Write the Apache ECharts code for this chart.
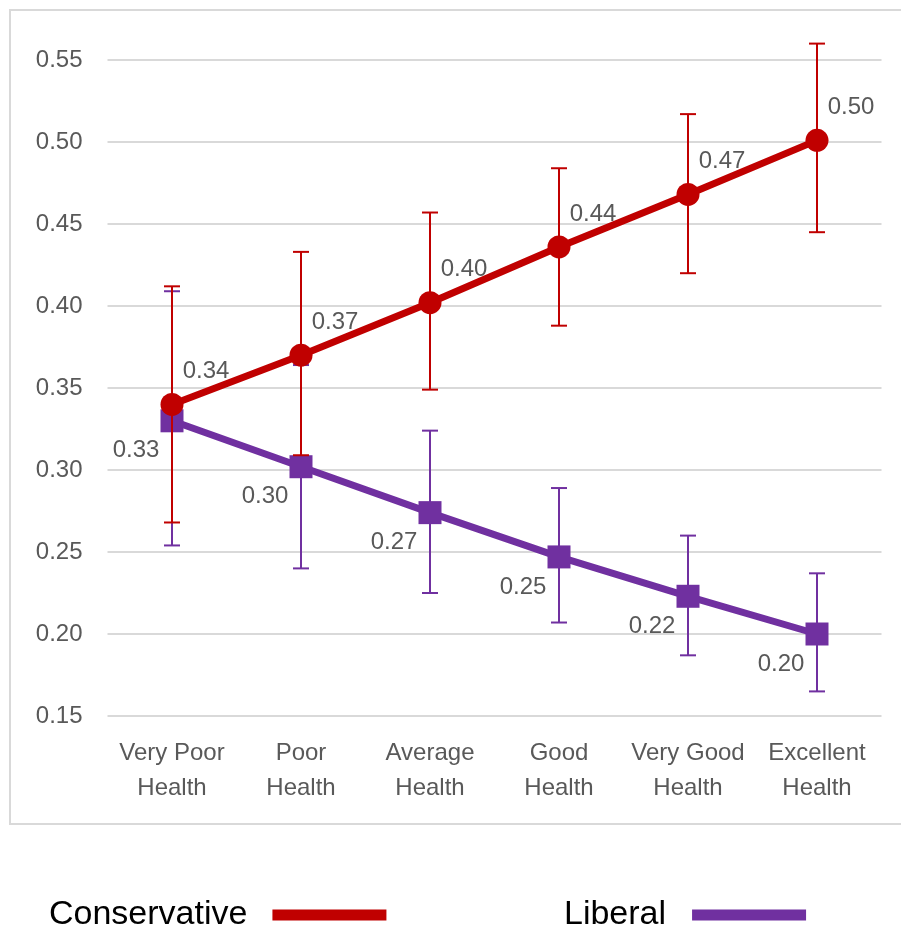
<!DOCTYPE html>
<html>
<head>
<meta charset="utf-8">
<script src="https://cdn.jsdelivr.net/npm/echarts@6/dist/echarts.min.js"></script>
<style>html,body{margin:0;padding:0;background:#fff;}#c{width:901px;height:925px;}</style>
</head>
<body>
<div id="c"></div>
<script>
const categories = ['Very Poor\nHealth', 'Poor\nHealth', 'Average\nHealth', 'Good\nHealth', 'Very Good\nHealth', 'Excellent\nHealth'];
const conservative = [0.340, 0.370, 0.402, 0.436, 0.468, 0.501];
const consLow = [0.268, 0.309, 0.349, 0.388, 0.420, 0.445];
const consHigh = [0.412, 0.433, 0.457, 0.484, 0.517, 0.560];
const liberal = [0.330, 0.302, 0.274, 0.247, 0.223, 0.200];
const libLow = [0.254, 0.240, 0.225, 0.207, 0.187, 0.165];
const libHigh = [0.409, 0.364, 0.324, 0.289, 0.260, 0.237];
const yTicks = [0.15, 0.20, 0.25, 0.30, 0.35, 0.40, 0.45, 0.50, 0.55];

const RED = '#C00000', PURPLE = '#7030A0', GRAY = '#595959';
const FONT = "'Liberation Sans', Arial, sans-serif";

function errData(low, high) { return low.map((l, i) => [i, l, high[i]]); }
function errRender(color) {
  return function (params, api) {
    const x = api.value(0);
    const lo = api.coord([x, api.value(1)]);
    const hi = api.coord([x, api.value(2)]);
    const hw = 8;
    const st = { stroke: color, lineWidth: 2 };
    return { type: 'group', children: [
      { type: 'line', shape: { x1: lo[0], y1: lo[1], x2: hi[0], y2: hi[1] }, style: st },
      { type: 'line', shape: { x1: lo[0] - hw, y1: lo[1], x2: lo[0] + hw, y2: lo[1] }, style: st },
      { type: 'line', shape: { x1: hi[0] - hw, y1: hi[1], x2: hi[0] + hw, y2: hi[1] }, style: st }
    ]};
  };
}

const chart = echarts.init(document.getElementById('c'));
chart.setOption({
  animation: false,
  backgroundColor: '#fff',
  graphic: [{ type: 'rect', shape: { x: 10, y: 10, width: 1000, height: 814 }, style: { fill: 'none', stroke: '#d9d9d9', lineWidth: 2 }, silent: true }],
  grid: { left: 107.5, right: 19.5, top: 60, bottom: 209 },
  legend: [
    { data: ['Conservative'], left: 44, top: 893, align: 'right', icon: 'rect', itemWidth: 114, itemHeight: 11,
      textStyle: { fontFamily: FONT, fontSize: 34, color: '#000', padding: [0, 20, 0, 0] } },
    { data: ['Liberal'], left: 559, top: 893, align: 'right', icon: 'rect', itemWidth: 114, itemHeight: 11,
      textStyle: { fontFamily: FONT, fontSize: 34, color: '#000', padding: [0, 21, 0, 0] } }
  ],
  xAxis: {
    type: 'category', data: categories, boundaryGap: true,
    axisLine: { show: false }, axisTick: { show: false },
    axisLabel: { fontFamily: FONT, fontSize: 24, color: GRAY, lineHeight: 35, margin: 20, interval: 0 }
  },
  yAxis: {
    type: 'value', min: 0.15, max: 0.55, interval: 0.05,
    axisLine: { show: false }, axisTick: { show: false },
    splitLine: { lineStyle: { color: '#d9d9d9', width: 2 } },
    axisLabel: { fontFamily: FONT, fontSize: 24, color: GRAY, margin: 25, formatter: v => v.toFixed(2) }
  },
  series: [
    { name: 'Liberal', type: 'line', data: liberal, z: 3, symbol: 'rect', symbolSize: 23,
      lineStyle: { color: PURPLE, width: 7 }, itemStyle: { color: PURPLE },
      label: { show: true, position: 'inside', offset: [-36, 30], fontFamily: FONT, fontSize: 24, color: GRAY, formatter: p => p.value.toFixed(2) } },
    { type: 'custom', name: 'libErr', data: errData(libLow, libHigh), renderItem: errRender(PURPLE), z: 4, encode: { x: 0, y: [1, 2] }, silent: true },
    { name: 'Conservative', type: 'line', data: conservative, z: 5, symbol: 'circle', symbolSize: 23,
      lineStyle: { color: RED, width: 7 }, itemStyle: { color: RED },
      label: { show: true, position: 'inside', offset: [34, -33], fontFamily: FONT, fontSize: 24, color: GRAY, formatter: p => p.value.toFixed(2) } },
    { type: 'custom', name: 'consErr', data: errData(consLow, consHigh), renderItem: errRender(RED), z: 6, encode: { x: 0, y: [1, 2] }, silent: true }
  ]
});
</script>
</body>
</html>
